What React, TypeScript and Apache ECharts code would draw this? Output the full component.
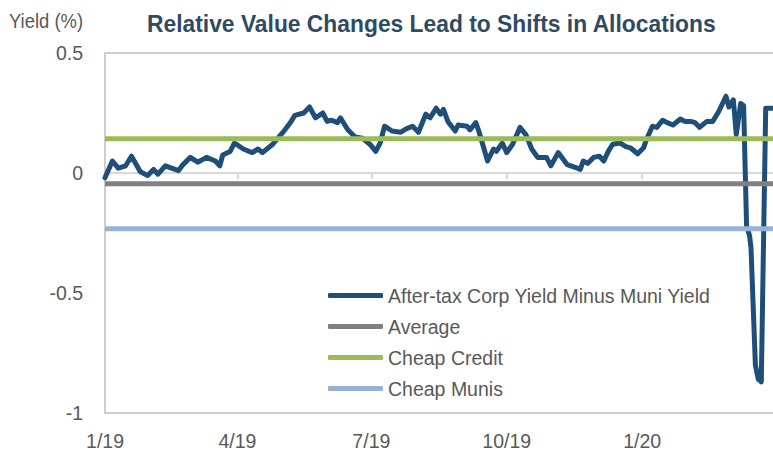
import React, { useEffect, useRef } from "react";
import * as echarts from "echarts";

// ---- data ----
const dates = [
  "2019-01-01", "2019-01-06", "2019-01-10", "2019-01-15", "2019-01-19", "2019-01-25", "2019-01-30",
  "2019-02-03", "2019-02-06", "2019-02-11", "2019-02-20", "2019-02-23", "2019-02-28", "2019-03-05",
  "2019-03-11", "2019-03-17", "2019-03-20", "2019-03-22", "2019-03-27", "2019-03-30", "2019-04-05",
  "2019-04-11", "2019-04-15", "2019-04-18", "2019-04-25", "2019-05-02", "2019-05-07", "2019-05-10",
  "2019-05-16", "2019-05-20", "2019-05-24", "2019-05-29", "2019-06-01", "2019-06-04", "2019-06-08",
  "2019-06-10", "2019-06-15", "2019-06-20", "2019-06-25", "2019-06-30", "2019-07-04", "2019-07-07",
  "2019-07-10", "2019-07-15", "2019-07-21", "2019-07-25", "2019-07-29", "2019-08-02", "2019-08-07",
  "2019-08-10", "2019-08-14", "2019-08-17", "2019-08-19", "2019-08-22", "2019-08-27", "2019-08-29",
  "2019-09-04", "2019-09-06", "2019-09-10", "2019-09-12", "2019-09-18", "2019-09-22", "2019-09-24",
  "2019-09-28", "2019-10-01", "2019-10-05", "2019-10-10", "2019-10-14", "2019-10-18", "2019-10-22",
  "2019-10-28", "2019-10-31", "2019-11-05", "2019-11-11", "2019-11-18", "2019-11-20", "2019-11-22",
  "2019-11-25", "2019-11-29", "2019-12-03", "2019-12-06", "2019-12-09", "2019-12-12", "2019-12-17",
  "2019-12-21", "2019-12-24", "2019-12-29", "2020-01-02", "2020-01-04", "2020-01-08", "2020-01-11",
  "2020-01-15", "2020-01-18", "2020-01-22", "2020-01-27", "2020-01-30", "2020-02-03", "2020-02-06",
  "2020-02-09", "2020-02-14", "2020-02-18", "2020-02-22", "2020-02-27", "2020-02-29", "2020-03-03",
  "2020-03-05", "2020-03-08", "2020-03-10", "2020-03-12", "2020-03-14", "2020-03-15", "2020-03-18",
  "2020-03-20", "2020-03-22", "2020-03-25", "2020-03-27", "2020-03-30",
];
const spread = [
  -0.02, 0.05, 0.02, 0.03, 0.07, 0.005, -0.01,
  0.015, -0.005, 0.03, 0.01, 0.035, 0.065, 0.045,
  0.065, 0.05, 0.03, 0.075, 0.09, 0.125, 0.1,
  0.085, 0.1, 0.085, 0.12, 0.17, 0.21, 0.24,
  0.25, 0.275, 0.23, 0.25, 0.215, 0.22, 0.21,
  0.23, 0.18, 0.15, 0.145, 0.12, 0.09, 0.125,
  0.195, 0.175, 0.17, 0.185, 0.195, 0.17, 0.245,
  0.23, 0.27, 0.245, 0.265, 0.215, 0.175, 0.2,
  0.195, 0.18, 0.21, 0.175, 0.05, 0.1, 0.09,
  0.125, 0.085, 0.12, 0.19, 0.16, 0.1, 0.065,
  0.065, 0.03, 0.085, 0.035, 0.02, 0.015, 0.05,
  0.04, 0.065, 0.07, 0.05, 0.09, 0.12, 0.125,
  0.11, 0.105, 0.08, 0.105, 0.14, 0.195, 0.19,
  0.22, 0.21, 0.2, 0.225, 0.215, 0.215, 0.21,
  0.19, 0.215, 0.215, 0.255, 0.32, 0.275, 0.305,
  0.16, 0.29, 0.28, -0.22, -0.26, -0.31, -0.8,
  -0.86, -0.87, 0.27, 0.27, 0.27,
];
const averageValue = -0.045;
const cheapCreditValue = 0.143;
const cheapMunisValue = -0.232;

const xStart = "2019-01-01";
const xEnd = "2020-04-01";
const tickDates = ["2019-01-01", "2019-04-01", "2019-07-01", "2019-10-01", "2020-01-01"];
const tickLabels = ["1/19", "4/19", "7/19", "10/19", "1/20"];

const seriesNames = [
  "After-tax Corp Yield Minus Muni Yield",
  "Average",
  "Cheap Credit",
  "Cheap Munis",
];
const titleText = "Relative Value Changes Lead to Shifts in Allocations";
const yAxisTitle = "Yield (%)";

const FONT = "'Liberation Sans', Arial, sans-serif";

function ts(d: string): number {
  const [y, m, day] = d.split("-").map(Number);
  return new Date(y, m - 1, day).getTime();
}

function measure(text: string, font: string): number {
  const c = document.createElement("canvas").getContext("2d");
  if (!c) return 0;
  c.font = font;
  return c.measureText(text).width;
}

export default function App() {
  const ref = useRef<HTMLDivElement>(null);

  useEffect(() => {
    if (!ref.current) return;
    const chart = echarts.init(ref.current, undefined, { renderer: "svg" });
    const tickTimes = tickDates.map(ts);
    const x0 = ts(xStart);
    const x1 = ts(xEnd);
    const flat = (v: number) => [[x0, v], [x1, v]];

    const titleFont = `bold 23px ${FONT}`;
    const titleW = measure(titleText, titleFont) || 600;
    const titleScale = 570 / titleW;
    const yFont = `20px ${FONT}`;
    const yW = measure(yAxisTitle, yFont) || 80;
    const yScale = Math.min(1, 74 / yW);

    chart.setOption({
      animation: false,
      backgroundColor: "#ffffff",
      textStyle: { fontFamily: FONT },
      graphic: [
        {
          type: "text",
          x: 147,
          y: 12,
          scaleX: titleScale,
          style: { text: titleText, font: titleFont, fill: "#2f4b63" },
        },
        {
          type: "text",
          x: 9,
          y: 11,
          scaleX: yScale,
          style: { text: yAxisTitle, font: yFont, fill: "#595959" },
        },
      ],
      grid: {
        left: 105,
        top: 53,
        width: 671,
        height: 360,
        show: true,
        borderColor: "#bfbfbf",
        borderWidth: 1.5,
        containLabel: false,
        outerBoundsMode: "none",
      },
      legend: {
        orient: "vertical",
        left: 328,
        top: 283,
        padding: 0,
        itemWidth: 55,
        itemHeight: 5,
        itemGap: 6,
        icon: "roundRect",
        data: seriesNames,
        textStyle: { fontFamily: FONT, fontSize: 19.5, lineHeight: 25, color: "#595959" },
      },
      xAxis: {
        type: "value",
        min: x0,
        max: x1,
        axisLine: { onZero: true, lineStyle: { color: "#d9d9d9", width: 2 } },
        axisTick: {
          show: true,
          customValues: tickTimes,
          length: 6,
          lineStyle: { color: "#d9d9d9", width: 2 },
        },
        axisLabel: {
          customValues: tickTimes,
          showMinLabel: true,
          showMaxLabel: true,
          margin: 18,
          fontSize: 19.5,
          color: "#595959",
          fontFamily: FONT,
          formatter: (v: number) => {
            const i = tickTimes.indexOf(v);
            return i >= 0 ? tickLabels[i] : "";
          },
        },
        splitLine: { show: false },
      },
      yAxis: {
        type: "value",
        min: -1,
        max: 0.5,
        interval: 0.5,
        axisLine: { show: false },
        axisTick: { show: false },
        splitLine: { show: false },
        axisLabel: {
          margin: 22,
          fontSize: 19.5,
          color: "#595959",
          fontFamily: FONT,
          formatter: (v: number) => String(Math.round(v * 10) / 10),
        },
      },
      series: [
        {
          name: seriesNames[0],
          type: "line",
          showSymbol: false,
          symbol: "none",
          data: dates.map((d, i) => [ts(d), spread[i]]),
          lineStyle: { color: "#1f4e79", width: 5, join: "round", cap: "round" },
          itemStyle: { color: "#1f4e79" },
          z: 2,
        },
        {
          name: seriesNames[1],
          type: "line",
          symbol: "none",
          data: flat(averageValue),
          lineStyle: { color: "#808080", width: 5 },
          itemStyle: { color: "#808080" },
          z: 3,
        },
        {
          name: seriesNames[2],
          type: "line",
          symbol: "none",
          data: flat(cheapCreditValue),
          lineStyle: { color: "#9bbb59", width: 5 },
          itemStyle: { color: "#9bbb59" },
          z: 3,
        },
        {
          name: seriesNames[3],
          type: "line",
          symbol: "none",
          data: flat(cheapMunisValue),
          lineStyle: { color: "#95b3d7", width: 5 },
          itemStyle: { color: "#95b3d7" },
          z: 3,
        },
      ],
    });

    return () => chart.dispose();
  }, []);

  return (
    <div
      ref={ref}
      style={{ position: "absolute", left: 0, top: 0, width: 773, height: 454 }}
    />
  );
}
